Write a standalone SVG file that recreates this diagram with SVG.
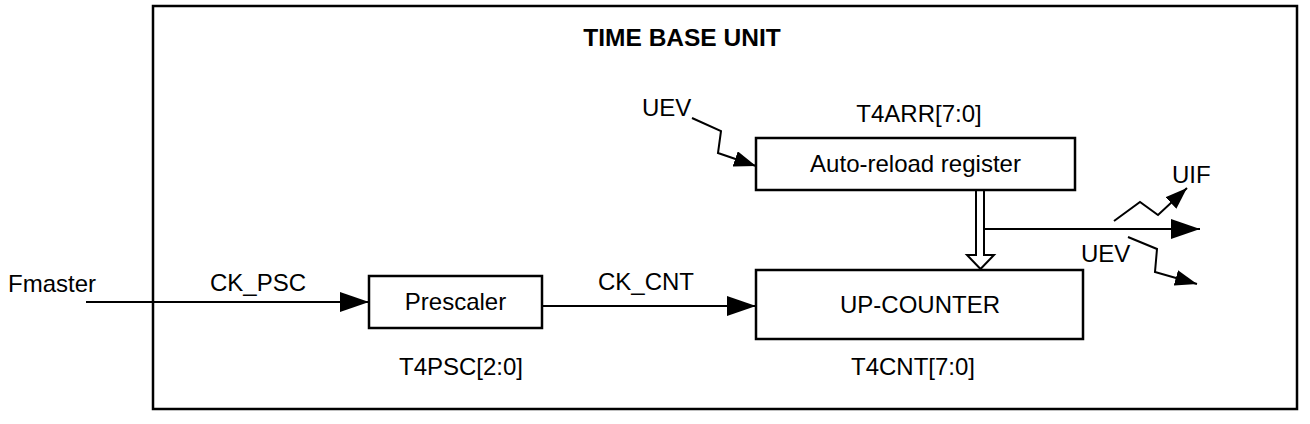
<svg xmlns="http://www.w3.org/2000/svg" width="1310" height="424" viewBox="0 0 1310 424">
<style>
text{font-family:"Liberation Sans",Arial,sans-serif;font-size:24px;fill:#000}
.t{font-weight:bold;font-size:24.5px}
.box{fill:#fff;stroke:#000;stroke-width:2.5}
.ln{fill:none;stroke:#000;stroke-width:2}
</style>
<defs>
<marker id="ah" markerWidth="29" markerHeight="20" refX="29" refY="10" orient="auto" markerUnits="userSpaceOnUse">
<path d="M0,0 L29,10 L0,20 Z" fill="#000"/>
</marker>
<marker id="as" markerWidth="22" markerHeight="16" refX="22" refY="8" orient="auto" markerUnits="userSpaceOnUse">
<path d="M0,0 L22,8 L0,16 Z" fill="#000"/>
</marker>
</defs>
<g id="frame">
<rect x="153" y="6" width="1144" height="403" fill="none" stroke="#000" stroke-width="2.5"/>
<text class="t" x="682" y="46" text-anchor="middle">TIME BASE UNIT</text>
</g>
<g id="connectors">
<line class="ln" x1="86" y1="302" x2="369" y2="302" marker-end="url(#ah)"/>
<line class="ln" x1="542" y1="306" x2="756" y2="306" marker-end="url(#ah)"/>
<polyline class="ln" points="692,118 721,131 718,153 756,166" marker-end="url(#as)"/>
<line class="ln" x1="984" y1="229" x2="1200" y2="229" marker-end="url(#ah)"/>
<polyline class="ln" points="1114,221 1140,202 1158,215 1187,188" marker-end="url(#as)"/>
<polyline class="ln" points="1128,237 1157,249 1155,272 1197,284" marker-end="url(#as)"/>
<path d="M976,190 V255 H967 L980.5,269 L994,255 H984 V190" fill="#fff" stroke="#000" stroke-width="2"/>
</g>
<g id="arr">
<rect class="box" x="756" y="138" width="319" height="52"/>
<text x="915.5" y="172" text-anchor="middle">Auto-reload register</text>
<text x="919" y="122" text-anchor="middle">T4ARR[7:0]</text>
</g>
<g id="counter">
<rect class="box" x="756" y="270" width="327" height="69"/>
<text x="920" y="313" text-anchor="middle">UP-COUNTER</text>
<text x="913" y="375" text-anchor="middle">T4CNT[7:0]</text>
</g>
<g id="prescaler">
<rect class="box" x="369" y="276" width="173" height="52"/>
<text x="455.5" y="310" text-anchor="middle">Prescaler</text>
<text x="461" y="375" text-anchor="middle">T4PSC[2:0]</text>
</g>
<g id="labels">
<text x="8" y="292">Fmaster</text>
<text x="210" y="291">CK_PSC</text>
<text x="598" y="290">CK_CNT</text>
<text x="642" y="116">UEV</text>
<text x="1172" y="183">UIF</text>
<text x="1081" y="262">UEV</text>
</g>
</svg>
